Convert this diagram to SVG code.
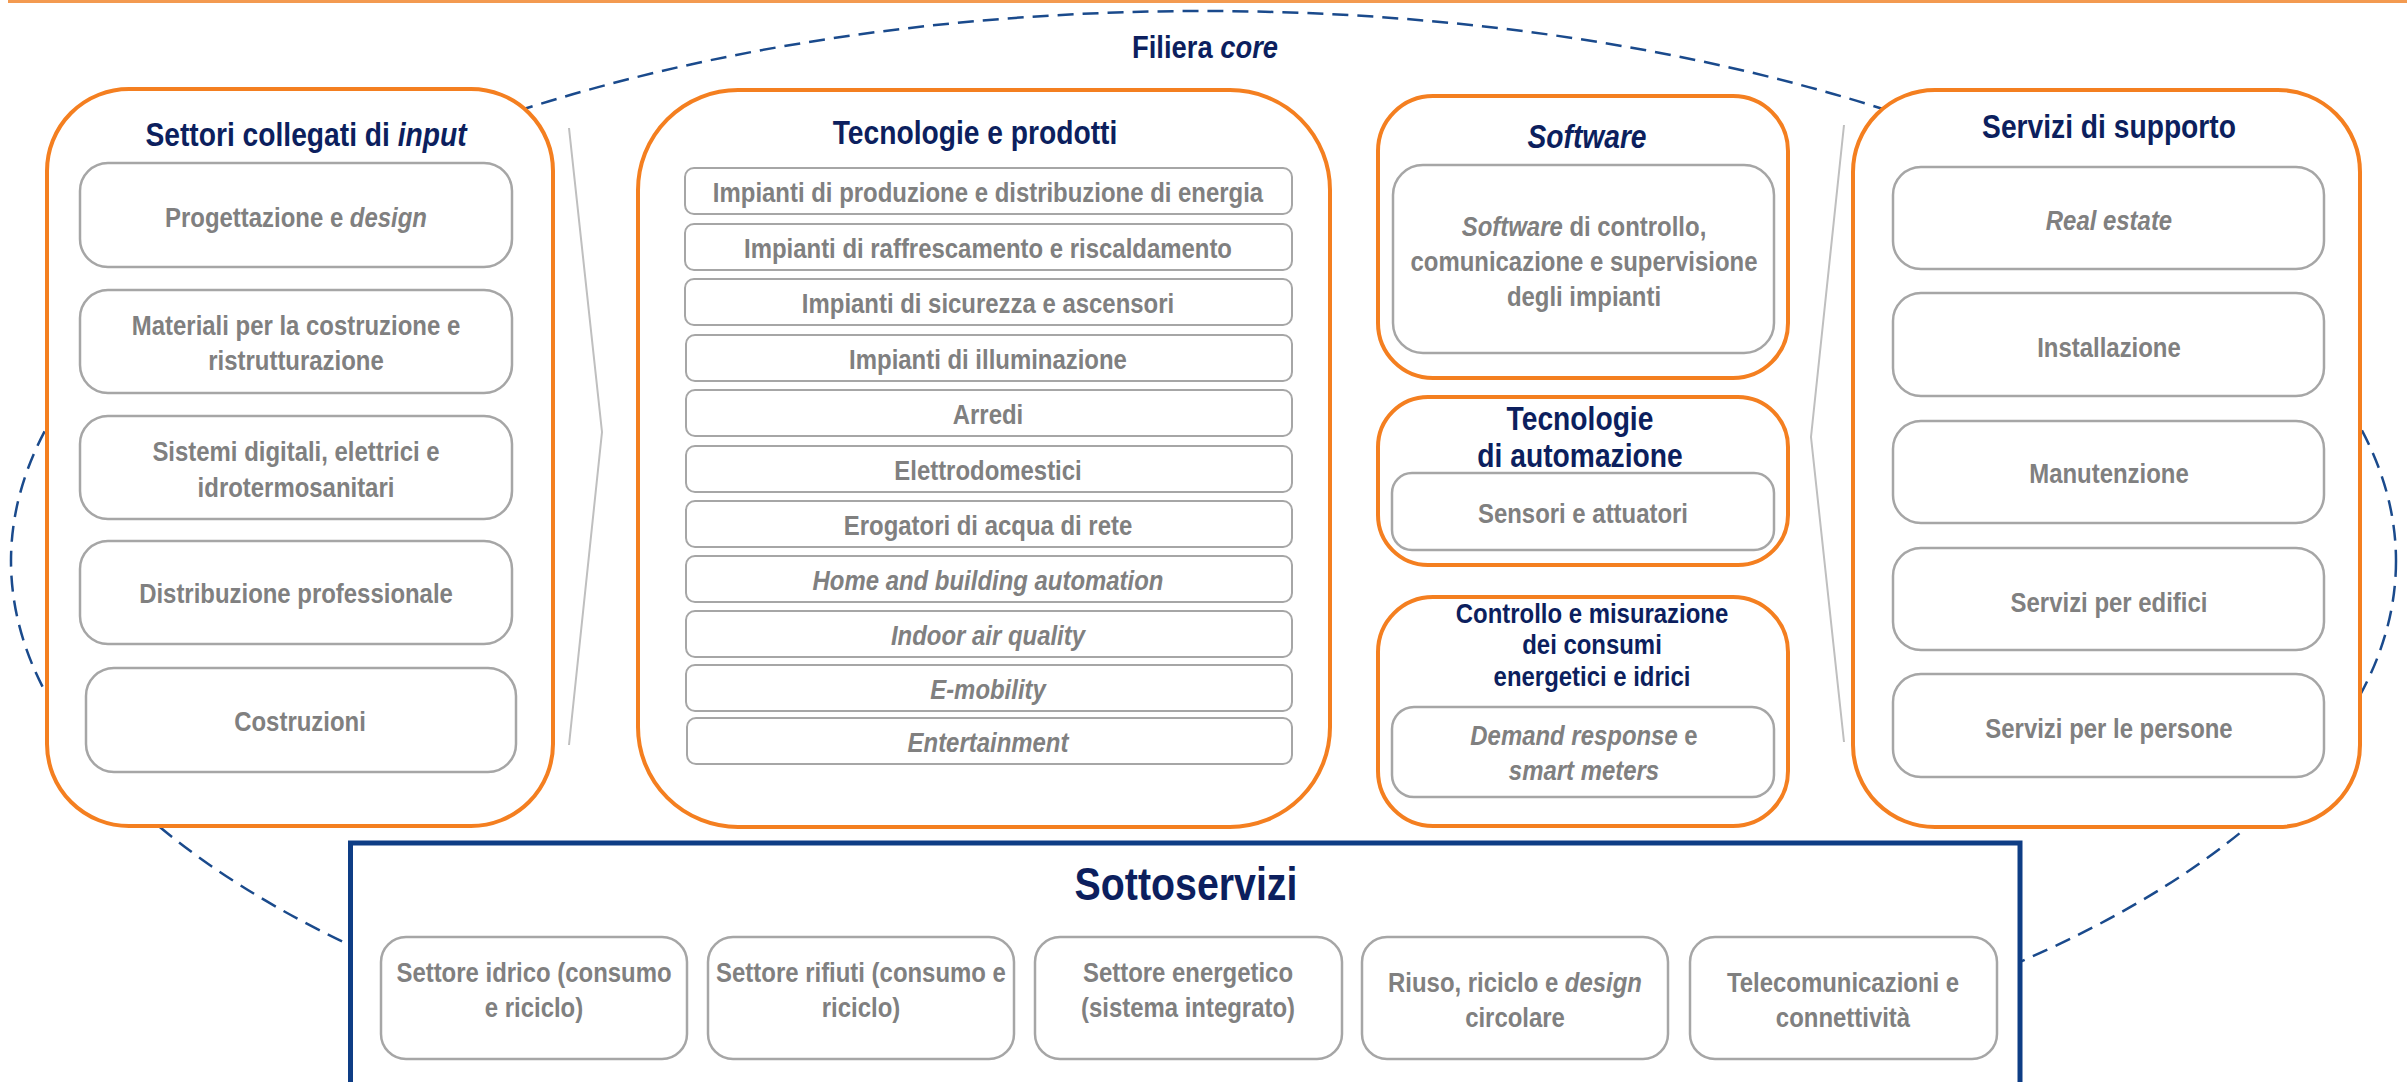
<svg xmlns="http://www.w3.org/2000/svg" width="2407" height="1082" viewBox="0 0 2407 1082">
<style>
.bg{fill:#FFFFFF}
.outer{fill:#FFFFFF;stroke:#F47F20;stroke-width:4}
.inner{fill:#FFFFFF;stroke:#A6A6A6;stroke-width:2.5}
.item{fill:#FFFFFF;stroke:#A6A6A6;stroke-width:2}
.sotto{fill:#FFFFFF;stroke:#0E3D85;stroke-width:5}
.ttl{font-family:"Liberation Sans",Arial,sans-serif;font-weight:bold;font-size:33px;fill:#0C1F5E;text-anchor:middle}
.sttl{font-family:"Liberation Sans",Arial,sans-serif;font-weight:bold;font-size:28px;fill:#0C1F5E;text-anchor:middle}
.big{font-family:"Liberation Sans",Arial,sans-serif;font-weight:bold;font-size:46px;fill:#0C1F5E;text-anchor:middle}
.txt{font-family:"Liberation Sans",Arial,sans-serif;font-weight:bold;font-size:28px;fill:#808080;text-anchor:middle}
.it{font-style:italic}
.chev{fill:none;stroke:#BFBFBF;stroke-width:2}
.dash{fill:none;stroke:#1A4A8C;stroke-width:2.5;stroke-dasharray:16 9}
</style>
<rect class="bg" x="0" y="0" width="2407" height="1082"/>
<line x1="8" y1="1.5" x2="2407" y2="1.5" stroke="#F39A50" stroke-width="3"/>

<g id="filiera-core">
  <ellipse class="dash" cx="1203.5" cy="561" rx="1192.5" ry="550"/>
  <text class="ttl" style="font-size:32px" transform="translate(1205 58) scale(.855 1)">Filiera <tspan class="it">core</tspan></text>
</g>

<g id="connectors">
  <polyline class="chev" points="569,128 602,432 569,745"/>
  <polyline class="chev" points="1844,125 1811,437 1844,742"/>
</g>

<g id="settori-input">
  <rect class="outer" x="47" y="89" width="506" height="737" rx="82" ry="82"/>
  <text class="ttl" transform="translate(306 146) scale(.855 1)">Settori collegati di <tspan class="it">input</tspan></text>
  <rect class="inner" x="80" y="163" width="432" height="104" rx="28"/>
  <text class="txt" transform="translate(296 227) scale(.855 1)">Progettazione e <tspan class="it">design</tspan></text>
  <rect class="inner" x="80" y="290" width="432" height="103" rx="28"/>
  <text class="txt" transform="translate(296 335) scale(.855 1)"><tspan x="0">Materiali per la costruzione e</tspan><tspan x="0" dy="35">ristrutturazione</tspan></text>
  <rect class="inner" x="80" y="416" width="432" height="103" rx="28"/>
  <text class="txt" transform="translate(296 461) scale(.855 1)"><tspan x="0">Sistemi digitali, elettrici e</tspan><tspan x="0" dy="36">idrotermosanitari</tspan></text>
  <rect class="inner" x="80" y="541" width="432" height="103" rx="28"/>
  <text class="txt" transform="translate(296 603) scale(.855 1)">Distribuzione professionale</text>
  <rect class="inner" x="86" y="668" width="430" height="104" rx="28"/>
  <text class="txt" transform="translate(300 731) scale(.855 1)">Costruzioni</text>
</g>

<g id="tecnologie-prodotti">
  <rect class="outer" x="638" y="90" width="692" height="737" rx="100" ry="100"/>
  <text class="ttl" transform="translate(975 144) scale(.855 1)">Tecnologie e prodotti</text>
  <rect class="item" x="685" y="168" width="607" height="46" rx="9"/>
  <text class="txt" transform="translate(988 202) scale(.855 1)">Impianti di produzione e distribuzione di energia</text>
  <rect class="item" x="685" y="224" width="607" height="46" rx="9"/>
  <text class="txt" transform="translate(988 258) scale(.855 1)">Impianti di raffrescamento e riscaldamento</text>
  <rect class="item" x="685" y="279" width="607" height="46" rx="9"/>
  <text class="txt" transform="translate(988 313) scale(.855 1)">Impianti di sicurezza e ascensori</text>
  <rect class="item" x="686" y="335" width="606" height="46" rx="9"/>
  <text class="txt" transform="translate(988 369) scale(.855 1)">Impianti di illuminazione</text>
  <rect class="item" x="686" y="390" width="606" height="46" rx="9"/>
  <text class="txt" transform="translate(988 424) scale(.855 1)">Arredi</text>
  <rect class="item" x="686" y="446" width="606" height="46" rx="9"/>
  <text class="txt" transform="translate(988 480) scale(.855 1)">Elettrodomestici</text>
  <rect class="item" x="686" y="501" width="606" height="46" rx="9"/>
  <text class="txt" transform="translate(988 535) scale(.855 1)">Erogatori di acqua di rete</text>
  <rect class="item" x="686" y="556" width="606" height="46" rx="9"/>
  <text class="txt it" transform="translate(988 590) scale(.855 1)">Home and building automation</text>
  <rect class="item" x="686" y="611" width="606" height="46" rx="9"/>
  <text class="txt it" transform="translate(988 645) scale(.855 1)">Indoor air quality</text>
  <rect class="item" x="686" y="665" width="606" height="46" rx="9"/>
  <text class="txt it" transform="translate(988 699) scale(.855 1)">E-mobility</text>
  <rect class="item" x="687" y="718" width="605" height="46" rx="9"/>
  <text class="txt it" transform="translate(988 752) scale(.855 1)">Entertainment</text>
</g>

<g id="software">
  <rect class="outer" x="1378" y="96" width="410" height="282" rx="55" ry="55"/>
  <text class="ttl it" transform="translate(1587 148) scale(.855 1)">Software</text>
  <rect class="inner" x="1393" y="165" width="381" height="188" rx="30"/>
  <text class="txt" transform="translate(1584 236) scale(.855 1)"><tspan x="0"><tspan class="it">Software</tspan> di controllo,</tspan><tspan x="0" dy="35">comunicazione e supervisione</tspan><tspan x="0" dy="35">degli impianti</tspan></text>
</g>

<g id="tecnologie-automazione">
  <rect class="outer" x="1378" y="397" width="410" height="168" rx="50" ry="50"/>
  <text class="ttl" transform="translate(1580 430) scale(.855 1)"><tspan x="0">Tecnologie</tspan><tspan x="0" dy="37">di automazione</tspan></text>
  <rect class="inner" x="1392" y="473" width="382" height="77" rx="20"/>
  <text class="txt" transform="translate(1583 523) scale(.855 1)">Sensori e attuatori</text>
</g>

<g id="controllo-misurazione">
  <rect class="outer" x="1378" y="597" width="410" height="229" rx="55" ry="55"/>
  <text class="sttl" transform="translate(1592 623) scale(.855 1)"><tspan x="0">Controllo e misurazione</tspan><tspan x="0" dy="31.5">dei consumi</tspan><tspan x="0" dy="31.5">energetici e idrici</tspan></text>
  <rect class="inner" x="1392" y="707" width="382" height="90" rx="22"/>
  <text class="txt" transform="translate(1584 745) scale(.855 1)"><tspan x="0"><tspan class="it">Demand response</tspan> e</tspan><tspan x="0" dy="35" class="it">smart meters</tspan></text>
</g>

<g id="servizi-supporto">
  <rect class="outer" x="1853" y="90" width="507" height="737" rx="82" ry="82"/>
  <text class="ttl" transform="translate(2109 138) scale(.855 1)">Servizi di supporto</text>
  <rect class="inner" x="1893" y="167" width="431" height="102" rx="28"/>
  <text class="txt it" transform="translate(2109 230) scale(.855 1)">Real estate</text>
  <rect class="inner" x="1893" y="293" width="431" height="103" rx="28"/>
  <text class="txt" transform="translate(2109 357) scale(.855 1)">Installazione</text>
  <rect class="inner" x="1893" y="421" width="431" height="102" rx="28"/>
  <text class="txt" transform="translate(2109 483) scale(.855 1)">Manutenzione</text>
  <rect class="inner" x="1893" y="548" width="431" height="102" rx="28"/>
  <text class="txt" transform="translate(2109 612) scale(.855 1)">Servizi per edifici</text>
  <rect class="inner" x="1893" y="674" width="431" height="103" rx="28"/>
  <text class="txt" transform="translate(2109 738) scale(.855 1)">Servizi per le persone</text>
</g>

<g id="sottoservizi">
  <rect class="sotto" x="350.5" y="843" width="1669.5" height="260"/>
  <text class="big" transform="translate(1186 900) scale(.855 1)">Sottoservizi</text>
  <rect class="inner" x="381" y="937" width="306" height="122" rx="25"/>
  <text class="txt" transform="translate(534 982) scale(.855 1)"><tspan x="0">Settore idrico (consumo</tspan><tspan x="0" dy="35">e riciclo)</tspan></text>
  <rect class="inner" x="708" y="937" width="306" height="122" rx="25"/>
  <text class="txt" transform="translate(861 982) scale(.855 1)"><tspan x="0">Settore rifiuti (consumo e</tspan><tspan x="0" dy="35">riciclo)</tspan></text>
  <rect class="inner" x="1035" y="937" width="307" height="122" rx="25"/>
  <text class="txt" transform="translate(1188 982) scale(.855 1)"><tspan x="0">Settore energetico</tspan><tspan x="0" dy="35">(sistema integrato)</tspan></text>
  <rect class="inner" x="1362" y="937" width="306" height="122" rx="25"/>
  <text class="txt" transform="translate(1515 992) scale(.855 1)"><tspan x="0">Riuso, riciclo e <tspan class="it">design</tspan></tspan><tspan x="0" dy="35">circolare</tspan></text>
  <rect class="inner" x="1690" y="937" width="307" height="122" rx="25"/>
  <text class="txt" transform="translate(1843 992) scale(.855 1)"><tspan x="0">Telecomunicazioni e</tspan><tspan x="0" dy="35">connettività</tspan></text>
</g>
</svg>
